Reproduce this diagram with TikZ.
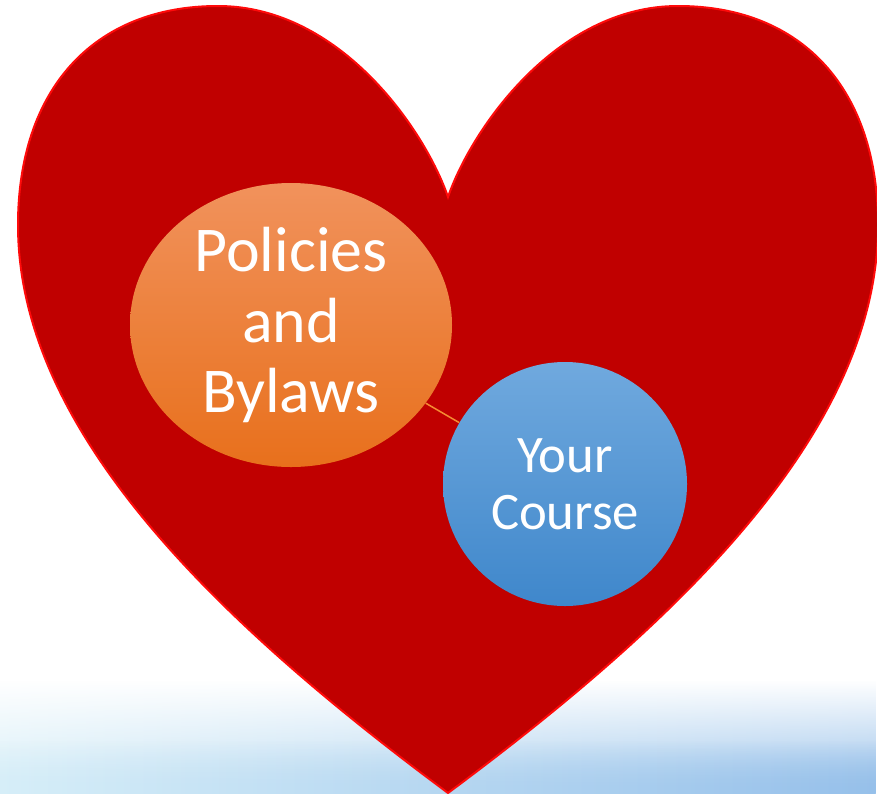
\documentclass[tikz,border=0pt]{standalone}
\usepackage{fontspec}
\setmainfont{Carlito}
\usetikzlibrary{shapes.geometric,fadings}
\definecolor{heartfill}{RGB}{192,0,0}
\definecolor{heartline}{RGB}{255,10,10}
\definecolor{orTop}{RGB}{241,146,92}
\definecolor{orBot}{RGB}{232,112,28}
\definecolor{blTop}{RGB}{112,169,222}
\definecolor{blBot}{RGB}{63,135,203}
\definecolor{linkcol}{RGB}{245,140,50}
\definecolor{bokehL}{RGB}{214,238,248}
\definecolor{bokehR}{RGB}{150,192,234}
\tikzset{
  heartshape/.style={fill=heartfill, draw=heartline, line width=0.6mm},
  orangebubble/.style={ellipse, inner sep=0pt, minimum width=96.6mm, minimum height=85.2mm,
     top color=orTop, bottom color=orBot, text=white, align=center,
     font=\fontsize{54.5}{59.8}\selectfont},
  bluebubble/.style={circle, inner sep=0pt, minimum size=73.2mm,
     top color=blTop, bottom color=blBot, text=white, align=center,
     font=\fontsize{45}{48.7}\selectfont},
  linkline/.style={draw=linkcol, line width=0.45mm}
}
\begin{document}
\begin{tikzpicture}[x=0.3mm,y=-0.3mm]
\useasboundingbox (0,0) rectangle (877,793);
\clip (0,0) rectangle (877,793);
\fill[white] (0,0) rectangle (877,793);
% bokeh-like background at the bottom
\shade[left color=bokehL, right color=bokehR, path fading=north] (0,680) rectangle (877,793);
\shade[left color=bokehL, right color=bokehR, path fading=north] (0,740) rectangle (877,793);
% heart
\path[heartshape] (448,197) .. controls (425,130) and (340,6) .. (218,6)
   .. controls (93,6) and (18,90) .. (18,225)
   .. controls (18,430) and (215,620) .. (448,793)
   .. controls (681,620) and (878,430) .. (878,225)
   .. controls (878,90) and (803,6) .. (678,6)
   .. controls (556,6) and (471,130) .. (448,197) -- cycle;
% bubbles
\node[orangebubble] (pol) at (291,325) {Policies\\and\\Bylaws};
\node[bluebubble] (yc) at (565,484) {Your\\Course};
\draw[linkline] (pol) -- (yc);
\end{tikzpicture}
\end{document}
